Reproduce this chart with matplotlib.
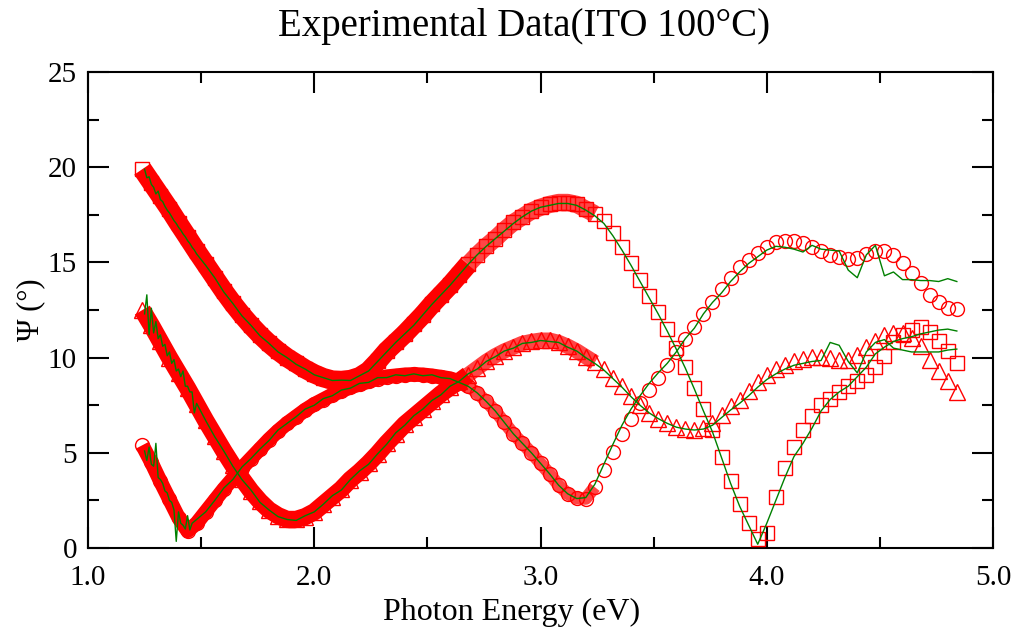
import matplotlib
matplotlib.use("Agg")
from matplotlib import pyplot as plt
from matplotlib.ticker import MultipleLocator

plt.rcParams['font.family'] = ['Liberation Serif', 'DejaVu Serif']

# photon energy grid of the fitted curves (eV)
energy = [1.24, 1.28, 1.32, 1.36, 1.40, 1.44, 1.48, 1.52, 1.56, 1.60,
          1.64, 1.68, 1.72, 1.76, 1.80, 1.84, 1.88, 1.92, 1.96, 2.00,
          2.04, 2.08, 2.12, 2.16, 2.20, 2.24, 2.28, 2.32, 2.36, 2.40,
          2.44, 2.48, 2.52, 2.56, 2.60, 2.64, 2.68, 2.72, 2.76, 2.80,
          2.84, 2.88, 2.92, 2.96, 3.00, 3.04, 3.08, 3.12, 3.16, 3.20,
          3.24, 3.28, 3.32, 3.36, 3.40, 3.44, 3.48, 3.52, 3.56, 3.60,
          3.64, 3.68, 3.72, 3.76, 3.80, 3.84, 3.88, 3.92, 3.96, 4.00,
          4.04, 4.08, 4.12, 4.16, 4.20, 4.24, 4.28, 4.32, 4.36, 4.40,
          4.44, 4.48, 4.52, 4.56, 4.60, 4.64, 4.68, 4.72, 4.76, 4.80,
          4.84]

psi_square = [19.9, 19.2, 18.5, 17.8, 17.05, 16.33, 15.6, 14.9, 14.2, 13.5,
              12.85, 12.25, 11.7, 11.2, 10.75, 10.35, 10.0, 9.7, 9.4, 9.15,
              8.95, 8.82, 8.8, 8.85, 9.0, 9.3, 9.8, 10.35, 10.8, 11.25,
              11.75, 12.25, 12.8, 13.3, 13.8, 14.35, 14.9, 15.4, 15.85, 16.25,
              16.7, 17.1, 17.4, 17.7, 17.9, 18.05, 18.15, 18.15, 18.05, 17.8,
              17.55, 17.2, 16.55, 15.8, 14.95, 14.1, 13.25, 12.4, 11.5, 10.5,
              9.5, 8.4, 7.3, 6.2, 4.8, 3.5, 2.3, 1.3, 0.45, 0.8,
              2.7, 4.2, 5.3, 6.2, 6.95, 7.5, 7.85, 8.2, 8.5, 8.8,
              9.1, 9.5, 10.1, 10.8, 11.2, 11.45, 11.6, 11.35, 10.9, 10.35,
              9.7]

psi_triangle = [12.5, 11.7, 10.85, 10.0, 9.2, 8.4, 7.55, 6.7, 5.9, 5.1,
                4.35, 3.65, 3.0, 2.45, 2.0, 1.7, 1.5, 1.5, 1.65, 1.9,
                2.3, 2.7, 3.1, 3.6, 4.0, 4.45, 4.95, 5.5, 6.0, 6.5,
                6.9, 7.3, 7.7, 8.1, 8.45, 8.75, 9.1, 9.45, 9.8, 10.1,
                10.35, 10.55, 10.75, 10.85, 10.92, 10.92, 10.8, 10.6, 10.35, 10.05,
                9.75, 9.4, 8.95, 8.5, 8.0, 7.5, 7.1, 6.8, 6.55, 6.35,
                6.25, 6.2, 6.3, 6.55, 7.0, 7.45, 7.8, 8.25, 8.7, 9.1,
                9.4, 9.62, 9.8, 9.95, 10.02, 10.03, 10.0, 9.9, 9.9, 10.15,
                10.55, 10.9, 11.2, 11.3, 11.3, 11.05, 10.6, 9.9, 9.3, 8.75,
                8.2]

psi_circle = [5.4, 4.5, 3.5, 2.55, 1.6, 0.9, 1.3, 1.9, 2.5, 3.1,
              3.65, 4.2, 4.7, 5.2, 5.7, 6.15, 6.55, 6.9, 7.25, 7.55,
              7.8, 8.05, 8.25, 8.45, 8.6, 8.75, 8.9, 9.0, 9.05, 9.1,
              9.12, 9.1, 9.05, 8.98, 8.9, 8.75, 8.5, 8.15, 7.7, 7.2,
              6.6, 6.0, 5.5, 5.0, 4.45, 3.9, 3.3, 2.85, 2.62, 2.6,
              3.2, 4.1, 5.05, 6.0, 6.8, 7.6, 8.3, 8.95, 9.6, 10.3,
              11.0, 11.6, 12.3, 12.95, 13.6, 14.2, 14.75, 15.15, 15.5, 15.8,
              16.05, 16.15, 16.15, 16.0, 15.8, 15.6, 15.4, 15.3, 15.2, 15.25,
              15.45, 15.6, 15.6, 15.4, 14.95, 14.45, 13.9, 13.3, 12.9, 12.6,
              12.55]

# measured data: dense at the noisy low-energy end, then the same grid
energy_low = [1.25, 1.26, 1.27, 1.28, 1.29, 1.30, 1.31, 1.32, 1.33, 1.34,
              1.35, 1.36, 1.37, 1.38, 1.39, 1.40, 1.41, 1.42, 1.43, 1.44,
              1.45, 1.46, 1.47, 1.48]
energy_exp = energy_low + energy[7:]

exp_square = [19.9, 19.45, 19.5, 19.1, 18.95, 18.6, 18.75, 18.3, 18.2, 17.95,
              17.75, 17.6, 17.4, 17.2, 17.05, 16.85, 16.7, 16.5, 16.35, 16.15,
              16.0, 15.8, 15.65, 15.45,
              14.85, 14.2, 13.45,
              12.85, 12.2, 11.7, 11.15, 10.75, 10.3, 10.0, 9.65, 9.4, 9.1,
              8.95, 8.8, 8.82, 8.8, 9.05, 9.3, 9.8, 10.3, 10.8, 11.25,
              11.7, 12.25, 12.8, 13.3, 13.8, 14.35, 14.9, 15.4, 15.85, 16.25,
              16.65, 17.05, 17.4, 17.7, 17.9, 18.0, 18.1, 18.1, 18.0, 17.75,
              17.45, 17.05, 16.4, 15.65, 14.85, 14.0, 13.15, 12.3, 11.4, 10.45,
              9.45, 8.35, 7.2, 6.1, 4.75, 3.4, 2.2, 1.2, 0.2, 1.3,
              2.5, 3.7, 4.8, 5.5, 6.3, 7.2, 7.8, 8.2, 8.5, 9.0,
              9.5, 10.2, 10.55, 10.85, 11.0, 11.1, 11.25, 11.35, 11.45, 11.5,
              11.4]

exp_triangle = [12.3, 13.3, 11.2, 12.6, 11.3, 11.9, 11.0, 11.2, 10.6, 10.7,
                10.1, 10.3, 9.7, 9.9, 9.3, 9.4, 9.0, 9.3, 8.5, 8.5,
                8.2, 8.2, 7.1, 7.6,
                6.7, 5.85, 5.1,
                4.3, 3.6, 3.05, 2.4, 2.0, 1.65, 1.5, 1.45, 1.7, 1.9,
                2.3, 2.75, 3.05, 3.6, 4.05, 4.4, 4.95, 5.45, 6.05, 6.45,
                6.95, 7.3, 7.75, 8.05, 8.5, 8.75, 9.15, 9.4, 9.8, 10.05,
                10.35, 10.5, 10.75, 10.8, 10.9, 10.85, 10.8, 10.55, 10.35, 10.0,
                9.7, 9.35, 8.9, 8.45, 7.95, 7.5, 7.1, 6.8, 6.55, 6.35,
                6.25, 6.2, 6.25, 6.45, 6.85, 7.25, 7.6, 8.0, 8.45, 8.85,
                9.15, 9.4, 9.6, 9.7, 9.8, 9.85, 10.8, 10.65, 9.8, 9.2,
                10.3, 10.8, 10.95, 10.5, 10.4, 10.3, 10.3, 10.3, 10.3, 10.4,
                10.45]

exp_circle = [5.1, 4.6, 5.3, 4.4, 4.3, 5.5, 3.7, 3.6, 3.4, 3.0,
              2.9, 2.5, 2.4, 2.0, 0.35, 1.9, 1.3, 1.2, 1.0, 1.7,
              0.95, 1.3, 1.4, 1.5,
              1.9, 2.5, 3.15,
              3.6, 4.25, 4.7, 5.2, 5.65, 6.2, 6.55, 6.9, 7.3, 7.5,
              7.85, 8.0, 8.3, 8.4, 8.65, 8.7, 8.95, 8.95, 9.1, 9.05,
              9.15, 9.05, 9.1, 8.95, 8.9, 8.7, 8.5, 8.15, 7.7, 7.2,
              6.6, 6.0, 5.5, 5.0, 4.45, 3.9, 3.3, 2.85, 2.6, 2.65,
              3.35, 4.4, 5.45, 6.45, 7.3, 8.0, 8.65, 9.2, 9.7, 10.3,
              11.0, 11.55, 12.3, 12.9, 13.4, 14.0, 14.5, 14.95, 15.3, 15.65,
              15.85, 15.8, 15.7, 15.55, 15.9, 15.7, 15.65, 15.6, 14.6, 14.2,
              15.4, 15.9, 14.3, 14.5, 14.1, 14.1, 14.05, 14.05, 14.0, 14.15,
              14.0]

fig = plt.figure(figsize=(10.21, 6.38), dpi=100)
ax = fig.add_axes([0.0862, 0.141, 0.8864, 0.746])

# the fitted points are so close at low energy that they merge into a band;
# solid band where they pile up, a paler one where they only overlap
solid_end = 36   # up to 2.64 eV
pale_end = 51    # up to 3.24 eV
series = [(psi_square, 's', 10.5, 14), (psi_triangle, '^', 11, 12.5), (psi_circle, 'o', 10, 10.5)]
for psi, m, ms, band in series:
    ax.plot(energy[:solid_end + 1], psi[:solid_end + 1], color='red', lw=band,
            solid_capstyle='butt', solid_joinstyle='round', zorder=2)
    ax.plot(energy[solid_end:pale_end], psi[solid_end:pale_end], color='#ff4545', lw=band - 1.5,
            solid_capstyle='butt', solid_joinstyle='round', zorder=1)
    ax.plot(energy, psi, linestyle='none', marker=m, markersize=ms,
            markerfacecolor='none', markeredgecolor='red', markeredgewidth=1.0, zorder=3)

for psi in [exp_square, exp_triangle, exp_circle]:
    ax.plot(energy_exp, psi, color='#008000', lw=1.0, zorder=4)

ax.set_xlim(1.0, 5.0)
ax.set_ylim(0, 25)
ax.xaxis.set_major_locator(MultipleLocator(1.0))
ax.xaxis.set_minor_locator(MultipleLocator(0.5))
ax.yaxis.set_major_locator(MultipleLocator(5))
ax.yaxis.set_minor_locator(MultipleLocator(2.5))
ax.xaxis.set_major_formatter(plt.FormatStrFormatter('%.1f'))
ax.tick_params(which='both', direction='in', top=True, right=True, width=1.5, labelsize=21)
ax.tick_params(which='major', length=15)
ax.tick_params(axis='x', which='major', pad=12)
ax.tick_params(axis='y', which='major', pad=8)
ax.tick_params(which='minor', length=8)
for s in ax.spines.values():
    s.set_linewidth(1.5)

ax.set_xlabel('Photon Energy (eV)', fontsize=23, labelpad=2)
ax.xaxis.set_label_coords(0.4685, -0.105)
ax.set_ylabel('Ψ (°)', fontsize=22, labelpad=2)
ax.set_title('Experimental Data(ITO 100°C)', fontsize=28, pad=26, x=0.482)

fig.savefig('out.png', dpi=100)
